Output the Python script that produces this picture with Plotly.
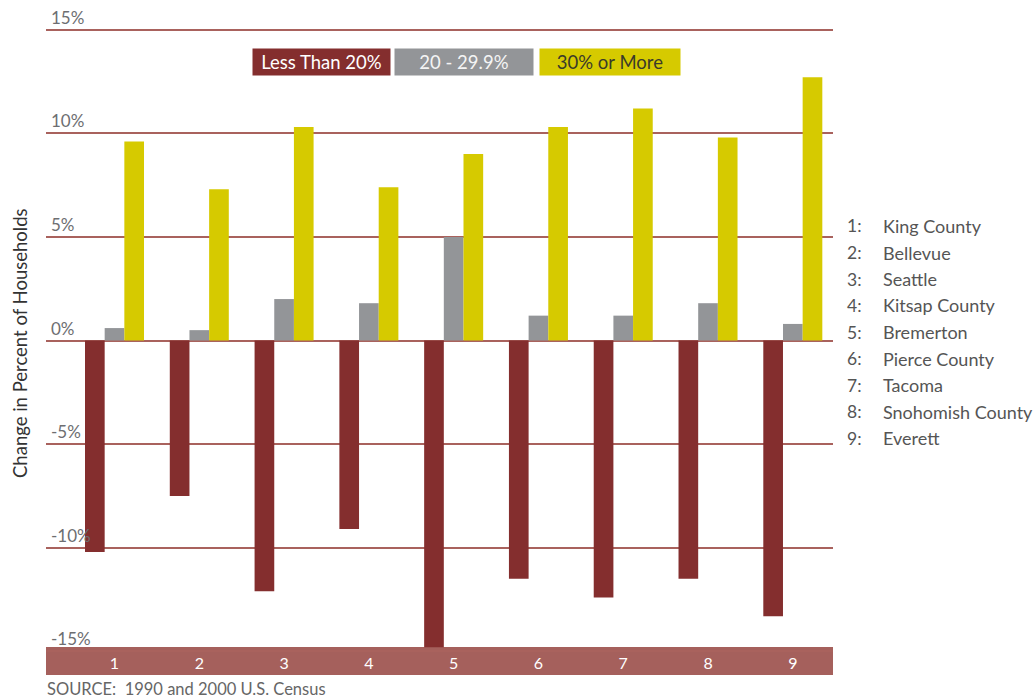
import plotly.graph_objects as go

# ---- data ----
categories = [1, 2, 3, 4, 5, 6, 7, 8, 9]
category_labels = ["1", "2", "3", "4", "5", "6", "7", "8", "9"]
place_names = ["King County", "Bellevue", "Seattle", "Kitsap County", "Bremerton",
               "Pierce County", "Tacoma", "Snohomish County", "Everett"]
series_names = ["Less Than 20%", "20 - 29.9%", "30% or More"]
less_than_20 = [-10.2, -7.5, -12.1, -9.1, -14.8, -11.5, -12.4, -11.5, -13.3]
from_20_to_30 = [0.6, 0.5, 2.0, 1.8, 5.0, 1.2, 1.2, 1.8, 0.8]
over_30 = [9.6, 7.3, 10.3, 7.4, 9.0, 10.3, 11.2, 9.8, 12.7]
y_tick_vals = [-15, -10, -5, 0, 5, 10, 15]
y_tick_text = ["-15%", "-10%", "-5%", "0%", "5%", "10%", "15%"]

colors = ["#842e2e", "#939598", "#d6ca00"]
grid_color = "#a9625d"
band_color = "#a5605c"
font_family = "Lato, 'Noto Sans', sans-serif"

W, H = 1033, 698
L, R, T, B = 46, 833, 0, 675  # plot area in pixels


def xp(px):
    return (px - L) / (R - L)


def yp(py):
    return (B - py) / (B - T)


fig = go.Figure()
for name, vals, col in zip(series_names, [less_than_20, from_20_to_30, over_30], colors):
    fig.add_trace(go.Bar(x=categories, y=vals, name=name, marker=dict(color=col, line=dict(width=0)),
                         showlegend=False))

fig.update_layout(
    width=W, height=H,
    margin=dict(l=L, r=W - R, t=T, b=H - B, autoexpand=False),
    paper_bgcolor="white", plot_bgcolor="white",
    barmode="group", bargap=0.304, bargroupgap=0,
    font=dict(family=font_family, color="#555"),
    xaxis=dict(range=[0.192, 9.474], tickvals=categories, ticktext=category_labels,
               ticklabelposition="inside", ticks="", showgrid=False, zeroline=False,
               showline=False, tickfont=dict(color="white", size=16)),
    yaxis=dict(range=[-16.14, 16.43], tickvals=y_tick_vals, ticktext=y_tick_text,
               ticklabelposition="inside top", ticks="", showgrid=True, gridcolor=grid_color,
               gridwidth=2, zeroline=True, zerolinecolor=grid_color, zerolinewidth=2,
               showline=False, tickfont=dict(color="#6d6e71", size=17),
               ticklabelstandoff=2),
    showlegend=False,
)

# category band at the bottom
fig.add_shape(type="rect", xref="paper", yref="paper", x0=0, x1=1, y0=0, y1=yp(647),
              fillcolor=band_color, line=dict(width=0), layer="between")

annotations = []
# legend boxes
legend_boxes = [(253, 390, "white"), (395, 533, "#f4f4f4"), (540, 680, "#3a3a2a")]
for (x0, x1, tc), name, col in zip(legend_boxes, series_names, colors):
    annotations.append(dict(xref="paper", yref="paper", x=xp((x0 + x1) / 2), y=yp(62),
                            xanchor="center", yanchor="middle", text=name, showarrow=False,
                            width=x1 - x0, height=26, bgcolor=col, borderpad=0,
                            font=dict(size=18.5, color=tc, family=font_family)))
# right-hand key
for i, (lab, nm) in enumerate(zip(category_labels, place_names)):
    yy = 226 + i * 26.5
    annotations.append(dict(xref="paper", yref="paper", x=xp(845), y=yp(yy), xanchor="left",
                            yanchor="middle", text=lab + ":", showarrow=False,
                            font=dict(size=17.5, color="#555")))
    annotations.append(dict(xref="paper", yref="paper", x=xp(881), y=yp(yy), xanchor="left",
                            yanchor="middle", text=nm, showarrow=False,
                            font=dict(size=18, color="#555")))
# y axis title
annotations.append(dict(xref="paper", yref="paper", x=xp(20), y=yp(343), xanchor="center",
                        yanchor="middle", text="Change in Percent of Households", textangle=-90,
                        showarrow=False, font=dict(size=18.5, color="#333")))
# source
annotations.append(dict(xref="paper", yref="paper", x=xp(45), y=yp(689), xanchor="left",
                        yanchor="middle", text="SOURCE:  1990 and 2000 U.S. Census",
                        showarrow=False, font=dict(size=16.5, color="#666")))
fig.update_layout(annotations=annotations)

fig.write_html("out.html")
